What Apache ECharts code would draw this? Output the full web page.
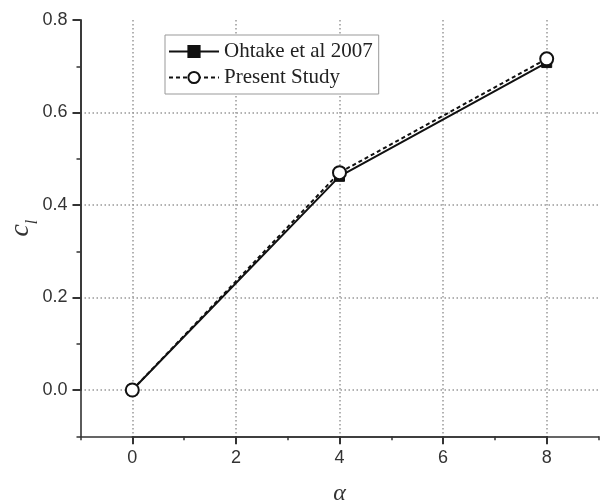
<!DOCTYPE html>
<html>
<head>
<meta charset="utf-8">
<script src="https://cdn.jsdelivr.net/npm/echarts@6/dist/echarts.min.js"></script>
<style>html,body{margin:0;padding:0;background:#fff}#c{width:600px;height:502px}</style>
</head>
<body>
<div id="c"></div>
<script>
// Data
var alphaVals = [0, 4, 8];
var ohtake = [0, 0.462, 0.708];
var present = [0, 0.470, 0.716];
var seriesNames = ['Ohtake et al 2007', 'Present Study'];
var xMajorTicks = [0, 2, 4, 6, 8];
var yMajorTicks = [0, 0.2, 0.4, 0.6, 0.8];

function pairs(xs, ys) { return xs.map(function (x, i) { return [x, ys[i]]; }); }

var axisColor = '#333';
var gridLineStyle = { color: '#999', width: 1.5, type: [1.5, 2.5] };
var labelFont = { fontFamily: 'Liberation Sans, Arial', fontSize: 18, color: '#333' };
var noBounds = { containLabel: false, outerBoundsMode: 'none' };

var chart = echarts.init(document.getElementById('c'), null, { renderer: 'canvas' });
chart.setOption({
  animation: false,
  backgroundColor: '#fff',
  grid: [
    Object.assign({ left: 80.5, right: 1.5, top: 20, bottom: 65.75 }, noBounds),      // main: x -1..9, y -0.1..0.8
    Object.assign({ left: 80.5, right: 1.5, top: 20, bottom: 112 }, noBounds),        // y 0..0.8 major
    Object.assign({ left: 132.3, right: 53.3, top: 20, bottom: 65.75 }, noBounds)     // x 0..8 major
  ],
  legend: {
    orient: 'vertical',
    left: 165, top: 35,
    data: seriesNames,
    itemWidth: 50, itemHeight: 14, itemGap: 5,
    padding: [6, 6, 6, 3],
    borderColor: '#999', borderWidth: 1,
    backgroundColor: '#fff',
    textStyle: { fontFamily: 'Liberation Serif, Times New Roman', fontSize: 21, color: '#222' }
  },
  xAxis: [
    {
      gridIndex: 0, type: 'value', min: -1, max: 9, interval: 1, position: 'bottom',
      axisLine: { show: true, onZero: false, lineStyle: { color: axisColor, width: 1.6 } },
      axisTick: { show: true, inside: false, length: 4, lineStyle: { color: axisColor, width: 1.5 } },
      axisLabel: { show: false },
      splitLine: { show: false },
      name: 'α', nameLocation: 'middle', nameGap: 45,
      nameTextStyle: { fontFamily: 'Liberation Serif, Times New Roman', fontStyle: 'italic', fontSize: 24, color: '#333' }
    },
    { gridIndex: 1, type: 'value', min: -1, max: 9, show: false, axisLine: { onZero: false } },
    {
      gridIndex: 2, type: 'value', min: 0, max: 8, interval: 2, position: 'bottom',
      axisLine: { show: true, onZero: false, lineStyle: { color: axisColor, width: 1.6 } },
      axisTick: { show: true, inside: false, length: 8, lineStyle: { color: axisColor, width: 2 } },
      axisLabel: Object.assign({ margin: 13, formatter: function (v) { return xMajorTicks.indexOf(v) >= 0 ? String(v) : ''; } }, labelFont),
      splitLine: { show: true, showMinLine: true, showMaxLine: true, lineStyle: gridLineStyle }
    }
  ],
  yAxis: [
    {
      gridIndex: 0, type: 'value', min: -0.1, max: 0.8, interval: 0.1, position: 'left',
      axisLine: { show: true, onZero: false, lineStyle: { color: axisColor, width: 1.6 } },
      axisTick: { show: true, inside: false, length: 4, lineStyle: { color: axisColor, width: 1.5 } },
      axisLabel: { show: false },
      splitLine: { show: false },
      name: '{c|c}{s|l}', nameLocation: 'middle', nameGap: 40, nameRotate: 90,
      nameTextStyle: {
        rich: {
          c: { fontFamily: 'Liberation Serif, Times New Roman', fontStyle: 'italic', fontSize: 28, color: '#333', padding: [0, 0, 6, 0] },
          s: { fontFamily: 'Liberation Serif, Times New Roman', fontStyle: 'italic', fontSize: 16, color: '#333', verticalAlign: 'bottom' }
        }
      }
    },
    {
      gridIndex: 1, type: 'value', min: 0, max: 0.8, interval: 0.2, position: 'left',
      axisLine: { show: true, onZero: false, lineStyle: { color: axisColor, width: 1.6 } },
      axisTick: { show: true, inside: false, length: 8, lineStyle: { color: axisColor, width: 2 } },
      axisLabel: Object.assign({ margin: 13, formatter: function (v) { return v.toFixed(1); } }, labelFont),
      splitLine: { show: true, showMinLine: true, showMaxLine: false, lineStyle: gridLineStyle }
    },
    { gridIndex: 2, type: 'value', min: -0.1, max: 0.8, show: false, axisLine: { onZero: false } }
  ],
  series: [
    {
      name: seriesNames[0], type: 'line', xAxisIndex: 0, yAxisIndex: 0,
      data: pairs(alphaVals, ohtake),
      symbol: 'rect', symbolSize: 10, z: 3,
      lineStyle: { color: '#111', width: 2, type: 'solid' },
      itemStyle: { color: '#111', borderColor: '#111', borderWidth: 1 }
    },
    {
      name: seriesNames[1], type: 'line', xAxisIndex: 0, yAxisIndex: 0,
      data: pairs(alphaVals, present),
      symbol: 'circle', symbolSize: 13, showAllSymbol: true, z: 4,
      lineStyle: { color: '#111', width: 2, type: [4, 3] },
      itemStyle: { color: '#fff', borderColor: '#111', borderWidth: 2 }
    }
  ]
});
</script>
</body>
</html>
